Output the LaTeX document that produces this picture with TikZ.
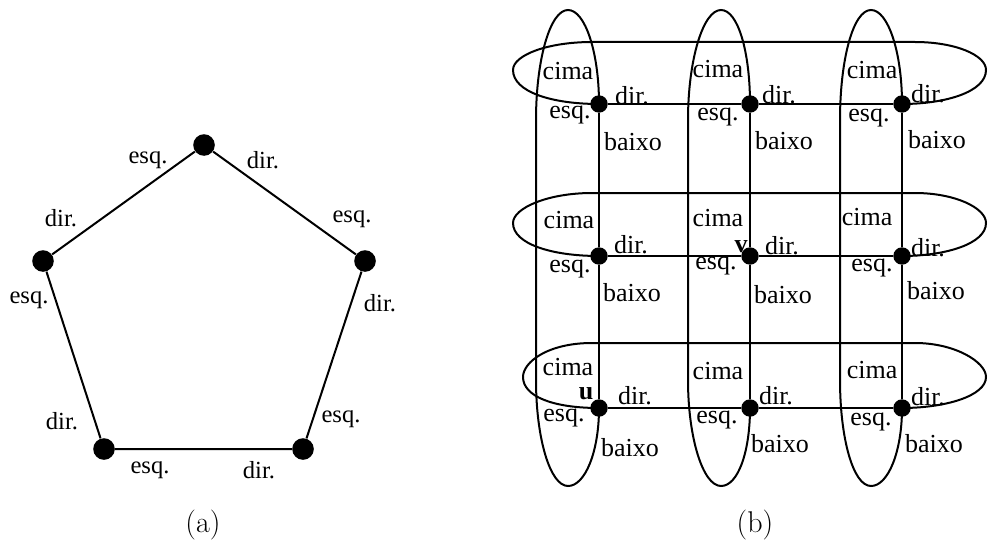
\documentclass[tikz,border=0pt]{standalone}
\usepackage{fontspec}
\newfontfamily\tms{Liberation Serif}
\begin{document}
\begin{tikzpicture}[x=0.5pt,y=-0.5pt,
  edge/.style={line width=1pt},
  pdot/.style={circle,fill,inner sep=0pt,minimum size=10.8pt},
  gdot/.style={circle,fill,inner sep=0pt,minimum size=8.7pt},
  lba/.style={inner sep=0pt,font=\tms\fontsize{12.3}{14}\selectfont},
  lbb/.style={inner sep=0pt,font=\tms\fontsize{13}{15}\selectfont},
  captxt/.style={inner sep=0pt,font=\fontsize{15}{18}\selectfont}]
\useasboundingbox (0,0) rectangle (989,551);

% ---------- (a) ring of five vertices ----------
\node[pdot] (p1) at (204,145) {};
\node[pdot] (p2) at (365,261) {};
\node[pdot] (p3) at (303,449) {};
\node[pdot] (p4) at (104,449) {};
\node[pdot] (p5) at (43,261) {};
\draw[edge] (p1) -- (p2) -- (p3) -- (p4) -- (p5) -- (p1);

\node[lba] (a1) at (148,160) {esq.};
\node[lba] (a2) at (263,160) {dir.};
\node[lba] (a3) at (352,219) {esq.};
\node[lba] (a4) at (380,303) {dir.};
\node[lba] (a5) at (341,419) {esq.};
\node[lba] (a6) at (259,470) {dir.};
\node[lba] (a7) at (150,470) {esq.};
\node[lba] (a8) at (62,421) {dir.};
\node[lba] (a9) at (29,300) {esq.};
\node[lba] (a10) at (61,218) {dir.};

\node[captxt] (capa) at (203,525) {(a)};

% ---------- (b) 3x3 torus grid ----------
\foreach \r/\y in {1/104,2/256,3/408}
  \foreach \c/\x in {1/599,2/750,3/902}
    \node[gdot] (g\r\c) at (\x,\y) {};

% straight grid edges
\foreach \r in {1,2,3} \draw[edge] (g\r1) -- (g\r2) -- (g\r3);
\foreach \c in {1,2,3} \draw[edge] (g1\c) -- (g2\c) -- (g3\c);

% wrap-around edges of the rows
\foreach \r/\yr/\tp/\ax/\ay in {1/104/42/513/70, 2/256/193/513/223, 3/408/343/523/377}
  \draw[edge] (g\r1.center) .. controls (552,\yr) and (\ax,\yr-12) .. (\ax,\ay)
     .. controls (\ax,\ay-15) and (548,\tp) .. (592,\tp) -- (915,\tp)
     .. controls (955,\tp) and (986,\ay-15) .. (986,\ay)
     .. controls (986,\yr-12) and (945,\yr) .. (g\r3.center);

% wrap-around edges of the columns
\foreach \c/\xc/\lx/\ax in {1/599/536/568, 2/750/688/721, 3/902/840/871}
  \draw[edge] (g1\c.center) .. controls (\xc,52) and (\ax+17,10) .. (\ax,10)
     .. controls (\ax-18,10) and (\lx,60) .. (\lx,120) -- (\lx,380)
     .. controls (\lx,438) and (\ax-18,486) .. (\ax,486)
     .. controls (\ax+17,486) and (\xc,452) .. (g3\c.center);

% port labels
\node[lbb] (c11) at (568,71) {cima};
\node[lbb] (d11) at (632,96) {dir.};
\node[lbb] (e11) at (570,115) {esq.};
\node[lbb] (b11) at (633,142) {baixo};
\node[lbb] (c12) at (718,69) {cima};
\node[lbb] (d12) at (779,95) {dir.};
\node[lbb] (e12) at (718,117) {esq.};
\node[lbb] (b12) at (784,141) {baixo};
\node[lbb] (c13) at (872,70) {cima};
\node[lbb] (d13) at (928,94) {dir.};
\node[lbb] (e13) at (869,118) {esq.};
\node[lbb] (b13) at (937,140) {baixo};

\node[lbb] (c21) at (569,220) {cima};
\node[lbb] (d21) at (631,245) {dir.};
\node[lbb] (e21) at (570,269) {esq.};
\node[lbb] (b21) at (632,293) {baixo};
\node[lbb] (c22) at (718,218) {cima};
\node[lbb] (d22) at (782,246) {dir.};
\node[lbb] (e22) at (716,266) {esq.};
\node[lbb] (b22) at (783,295) {baixo};
\node[lbb] (c23) at (867,217) {cima};
\node[lbb] (d23) at (928,248) {dir.};
\node[lbb] (e23) at (872,268) {esq.};
\node[lbb] (b23) at (936,291) {baixo};

\node[lbb] (c31) at (568,367) {cima};
\node[lbb] (d31) at (635,396) {dir.};
\node[lbb] (e31) at (564,418) {esq.};
\node[lbb] (b31) at (630,448) {baixo};
\node[lbb] (c32) at (718,371) {cima};
\node[lbb] (d32) at (776,396) {dir.};
\node[lbb] (e32) at (717,420) {esq.};
\node[lbb] (b32) at (780,444) {baixo};
\node[lbb] (c33) at (872,370) {cima};
\node[lbb] (d33) at (928,397) {dir.};
\node[lbb] (e33) at (871,422) {esq.};
\node[lbb] (b33) at (934,444) {baixo};

\node[lbb] (vu) at (586,394) {\textbf{u}};
\node[lbb] (vv) at (741,247) {\textbf{v}};

\node[captxt] (capb) at (755,525) {(b)};
\end{tikzpicture}
\end{document}
